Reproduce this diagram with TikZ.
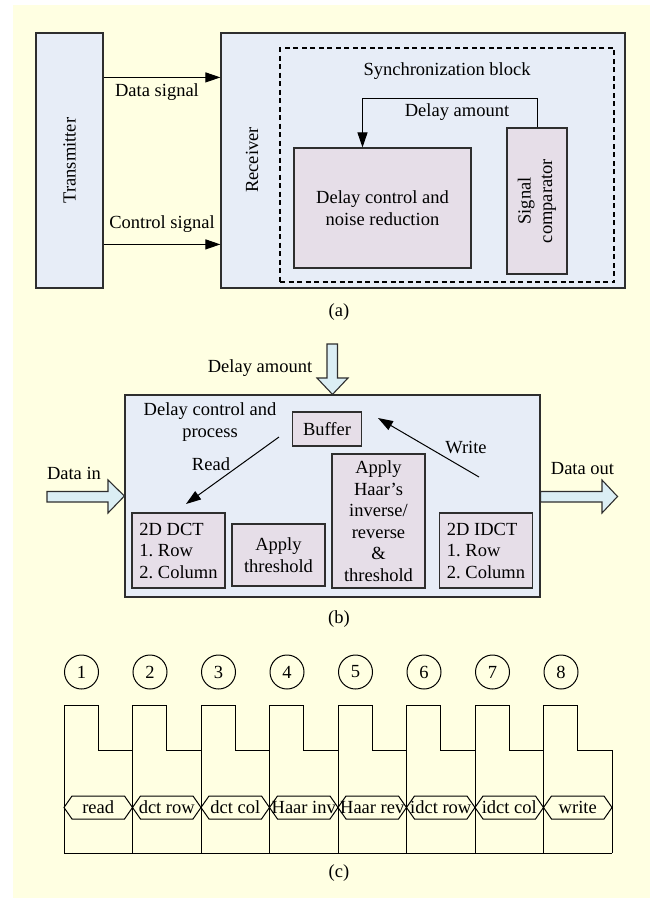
\documentclass[tikz,border=0pt]{standalone}
\usepackage{fontspec}
\setmainfont{Liberation Serif}
\usetikzlibrary{arrows.meta,calc}
\definecolor{bgyellow}{HTML}{FFFFE2}
\definecolor{boxblue}{HTML}{E7EDF7}
\definecolor{boxpurple}{HTML}{E6DEE8}
\definecolor{arrowblue}{HTML}{DBEEF4}
\definecolor{linegray}{HTML}{2E2E2E}
\begin{document}
\begin{tikzpicture}[x=1pt,y=-1pt,
  every node/.style={font=\fontsize{18.5}{21.5}\selectfont\frenchspacing, inner sep=0pt},
  bluebox/.style={draw=linegray, line width=1.2pt, fill=boxblue},
  purplebox/.style={draw=linegray, line width=1.1pt, fill=boxpurple},
  conn/.style={draw=black, line width=1pt, -{Triangle[length=15pt,width=10pt]}},
  hollow/.style={draw=linegray, line width=1.1pt, fill=arrowblue, line join=miter},
  wave/.style={draw=black, line width=1pt},
  numcirc/.style={draw=black, line width=1pt, circle, minimum size=34pt}
]
\useasboundingbox (0,0) rectangle (650,900);
\fill[bgyellow] (12.5,5) rectangle (650,898);

% ---------------- (a)
\node[bluebox, minimum width=67pt, minimum height=255pt] (tx) at (69.5,160.5) {};
\node[rotate=90] (txt) at (tx.center) {Transmitter};
\node[bluebox, minimum width=404pt, minimum height=255pt] (rx) at (423,160.5) {};
\node[rotate=90] (rxt) at (252,160) {Receiver};
\node[draw=black, line width=1.2pt, dash pattern=on 5pt off 3.5pt, minimum width=334pt, minimum height=234pt] (sync) at (447,165) {};
\node (synct) at (447,71) {Synchronization block};
\node[purplebox, minimum width=177pt, minimum height=120pt, align=center] (dc) at (382.5,208) {Delay control and\\noise reduction};
\node[purplebox, minimum width=60pt, minimum height=146pt] (cmp) at (537,201) {};
\node[rotate=90, align=center] (cmpt) at (cmp.center) {Signal\\comparator};
\coordinate (dcin) at ($(dc.north)+(-20,0)$);
\draw[conn] (cmp.north) -- ++(0,-29) -| (dcin);
\node (dat) at (457,112) {Delay amount};

\draw[conn] ($(tx.north east)+(0,45)$) -- ($(rx.north west)+(0,45)$);
\draw[conn] ($(tx.north east)+(0,212)$) -- ($(rx.north west)+(0,212)$);
\node (dsl) at (157,92) {Data signal};
\node (csl) at (162,224) {Control signal};
\node (capa) at (339,312) {(a)};

% ---------------- (b)
\node[bluebox, minimum width=415pt, minimum height=202pt] (pb) at (332.5,496) {};
\draw[hollow] (327,344) -- (337.5,344) -- (337.5,378) -- (348,378) -- (pb.north) -- (317,378) -- (327,378) -- cycle;
\draw[hollow] (47,491.5) -- (108,491.5) -- (108,480) -- (pb.west) -- (108,513) -- (108,502) -- (47,502) -- cycle;
\draw[hollow] (pb.east |- 0,491.5) -- (602,491.5) -- (602,480) -- (617.5,496.5) -- (602,513) -- (602,502) -- (pb.east |- 0,502) -- cycle;
\node (dain) at (74,473) {Data in};
\node (daout) at (582.5,469) {Data out};
\node (damt) at (260,368) {Delay amount};
\node[align=center] (dcp) at (210,422) {Delay control and\\process};
\node[purplebox, minimum width=69.5pt, minimum height=34pt] (buf) at (327,429) {Buffer};
\node[purplebox, minimum width=93pt, minimum height=75pt, align=left] (dct) at (178.5,550.5) {2D DCT\\1. Row\\2. Column};
\node[purplebox, minimum width=93pt, minimum height=62pt, align=center] (thr) at (278.5,555) {Apply\\threshold};
\node[purplebox, minimum width=93pt, minimum height=134pt, align=center] (haar) at (378.5,521) {Apply\\Haar’s\\inverse/\\reverse\\\&\\threshold};
\node[purplebox, minimum width=92.5pt, minimum height=75pt, align=left] (idct) at (486,550.5) {2D IDCT\\1. Row\\2. Column};
\coordinate (rdA) at (279,437);
\coordinate (rdB) at (186,504);
\draw[conn] (rdA) -- (rdB);
\node (rdl) at (211,464) {Read};
\coordinate (wrA) at (479,477);
\coordinate (wrB) at (378,418);
\draw[conn] (wrA) -- (wrB);
\node (wrl) at (466,448) {Write};
\node (capb) at (339,619) {(b)};

% ---------------- (c)
\foreach \i/\lab [evaluate=\i as \n using int(\i+1), evaluate=\i as \bx using 64+68.5*\i] in
  {0/read,1/dct row,2/dct col,3/Haar inv,4/Haar rev,5/idct row,6/idct col,7/write} {
  \node[numcirc] (n\i) at (\bx+17.5,672) {\n};
  \draw[wave] (\bx,853) -- (\bx,705) -- (\bx+34,705) -- (\bx+34,750) -- (\bx+68.5,750);
  \draw[wave] (\bx,807.5) -- (\bx+8,796) -- (\bx+60.5,796) -- (\bx+68.5,807.5) -- (\bx+60.5,819) -- (\bx+8,819) -- cycle;
  \node (h\i) at (\bx+34.25,807.5) {\lab};
}
\draw[wave] (612,750) -- (612,853);
\draw[wave] (64,853) -- (612,853);
\node (capc) at (339,873) {(c)};
\end{tikzpicture}
\end{document}
